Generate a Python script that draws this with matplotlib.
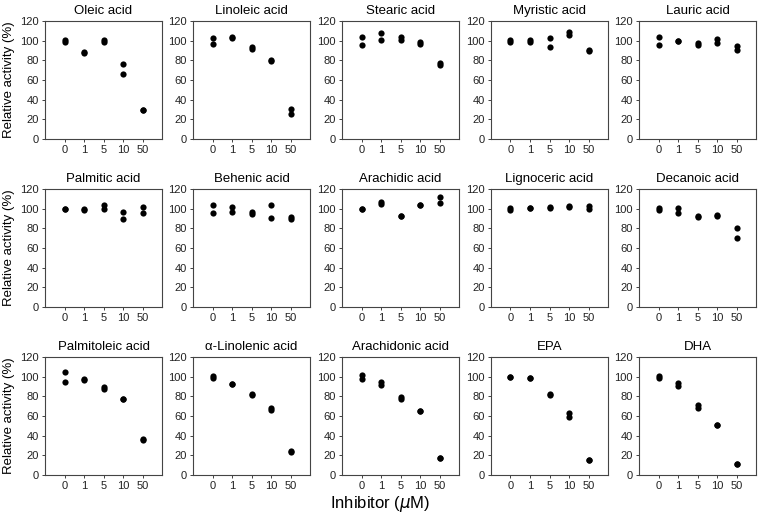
import numpy as np
import matplotlib
matplotlib.use("Agg")
import matplotlib.pyplot as plt

plt.rcParams['font.family'] = ['Liberation Sans', 'DejaVu Sans']

doses = ['0', '1', '5', '10', '50']

titles = ['Oleic acid', 'Linoleic acid', 'Stearic acid', 'Myristic acid', 'Lauric acid',
          'Palmitic acid', 'Behenic acid', 'Arachidic acid', 'Lignoceric acid', 'Decanoic acid',
          'Palmitoleic acid', '\u03b1-Linolenic acid', 'Arachidonic acid', 'EPA', 'DHA']

# two replicates per dose (rep1, rep2)
oleic = [[101, 88, 101, 76, 30], [99, 87, 99, 66, 30]]
linoleic = [[103, 104, 94, 80, 31], [97, 103, 92, 79, 25]]
stearic = [[104, 108, 104, 99, 77], [96, 101, 101, 97, 75]]
myristic = [[101, 101, 103, 109, 91], [99, 99, 94, 106, 89]]
lauric = [[104, 100, 98, 102, 95], [96, 100, 96, 98, 91]]
palmitic = [[100, 100, 104, 97, 102], [100, 99, 100, 90, 96]]
behenic = [[104, 102, 97, 104, 92], [96, 97, 95, 91, 89]]
arachidic = [[100, 107, 93, 104, 112], [100, 105, 93, 104, 106]]
lignoceric = [[101, 101, 102, 103, 103], [99, 101, 101, 102, 100]]
decanoic = [[101, 101, 93, 94, 80], [99, 96, 92, 93, 70]]
palmitoleic = [[105, 98, 90, 77, 37], [95, 97, 87, 77, 36]]
linolenic = [[101, 93, 82, 68, 24], [99, 93, 81, 66, 23]]
arachidonic = [[102, 95, 79, 65, 17], [98, 92, 77, 65, 17]]
epa = [[100, 99, 82, 63, 15], [100, 99, 81, 59, 15]]
dha = [[101, 94, 71, 51, 11], [99, 91, 68, 51, 11]]

all_data = [oleic, linoleic, stearic, myristic, lauric,
            palmitic, behenic, arachidic, lignoceric, decanoic,
            palmitoleic, linolenic, arachidonic, epa, dha]

fig = plt.figure(figsize=(7.6, 5.15), dpi=100)
W, H = 760, 515
lefts = [45, 193, 342, 491, 639]
tops = [21, 189, 357]
aw, ah = 117, 118

x = np.arange(len(doses))
for i, (title, data) in enumerate(zip(titles, all_data)):
    r, c = divmod(i, 5)
    ax = fig.add_axes([lefts[c] / W, 1 - (tops[r] + ah) / H, aw / W, ah / H])
    for rep in data:
        ax.scatter(x, rep, s=20, color='black', zorder=3, linewidths=0)
    ax.set_xlim(-1, 5)
    ax.set_ylim(0, 120)
    ax.set_xticks(x)
    ax.set_xticklabels(doses)
    ax.set_yticks(range(0, 121, 20))
    ax.tick_params(labelsize=8, length=2.5, width=0.6, pad=2, colors='#222222')
    for s in ax.spines.values():
        s.set_linewidth(0.8)
        s.set_color('#444444')
    ax.set_title(title, fontsize=9.5, pad=5)
    if c == 0:
        ax.set_ylabel('Relative activity (%)', fontsize=9.5, labelpad=4)

fig.text(380 / W, 1 - 504 / H, 'Inhibitor ($\\mu$M)', fontsize=12, ha='center', va='center')

fig.savefig('out.png', dpi=100)
